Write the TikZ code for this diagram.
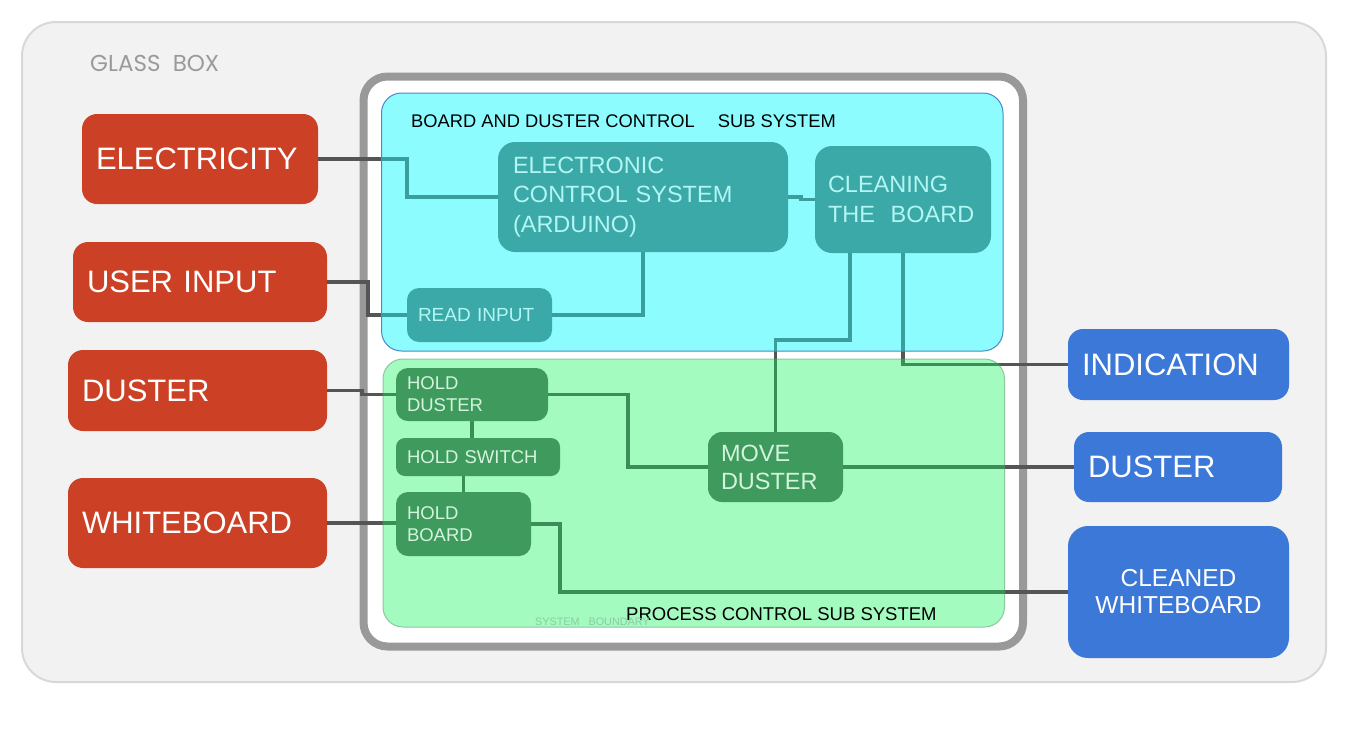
\documentclass[tikz,border=0pt]{standalone}
\usepackage{fontspec}
\setmainfont{Liberation Sans}
\newfontfamily\glassfont{Poppins}
\usepackage{tikz}
\usetikzlibrary{positioning}

\definecolor{glassfill}{HTML}{F2F2F2}
\definecolor{glassline}{HTML}{D8D8D8}
\definecolor{glasstext}{HTML}{9A9A9A}
\definecolor{boundline}{HTML}{999999}
\definecolor{cyanfill}{HTML}{8DFCFF}
\definecolor{cyanline}{HTML}{4F86C6}
\definecolor{greenfill}{HTML}{A3FBBF}
\definecolor{greenline}{HTML}{8CC79E}
\definecolor{boundtext}{HTML}{8CCBA2}
\definecolor{tealbox}{HTML}{3BA9A7}
\definecolor{tealtext}{HTML}{B2F6F4}
\definecolor{tealwire}{HTML}{3A9E9C}
\definecolor{greenbox}{HTML}{3F9A5E}
\definecolor{greentext}{HTML}{D2F5DC}
\definecolor{greenwire}{HTML}{3C8E58}
\definecolor{inputred}{HTML}{CC4125}
\definecolor{outputblue}{HTML}{3C78D8}
\definecolor{wiregray}{HTML}{555555}

\tikzset{
    basebox/.style = {rectangle, inner ysep=0pt, align=left},
    boxsize/.style n args = {3}{minimum width=#1pt, minimum height=#2pt, text width=#3pt},
    redbox/.style = {basebox, fill=inputred, text=white, rounded corners=15pt, inner xsep=14pt,
      font=\fontsize{31}{37}\selectfont},
    bluebox/.style = {basebox, fill=outputblue, text=white, rounded corners=15pt, inner xsep=14pt,
      font=\fontsize{31}{37}\selectfont},
    tealnode/.style = {basebox, fill=tealbox, text=tealtext, rounded corners=17pt},
    greennode/.style = {basebox, fill=greenbox, text=greentext, rounded corners=12pt, inner xsep=11pt,
      font=\fontsize{18.5}{22}\selectfont},
    regionbox/.style = {rectangle, rounded corners=20pt, line width=1pt, inner sep=0pt},
    labelnode/.style = {anchor=base west, inner sep=0pt},
    wire/.style = {line width=3.5pt}
}

% all connectors, drawn once in grey and again clipped to each sub system
\newcommand{\drawwires}{
    \draw[wire] (Elec.east) -| ([xshift=-91pt]ECS.west) -- (ECS.west);
    \draw[wire] (User.east) -| ([xshift=-39pt]ReadIn.west) -- (ReadIn.west);
    \draw[wire] (ReadIn.east) -| (ECS.south);
    \draw[wire] (ECS.east) -- ++(13,0) |- (Clean.west);
    \draw[wire] ([xshift=-53pt]Clean.south) |- ([yshift=92pt]Move.north) -- (Move.north);
    \draw[wire] (Clean.south) |- (Indic.west);
    \draw[wire] (DusterIn.east) -- ++(35,0) |- (HoldDuster.west);
    \draw[wire] (HoldDuster.east) -| ([xshift=-80pt]Move.west) -- (Move.west);
    \draw[wire] (HoldDuster.south) -- (HoldDuster.south |- HoldSwitch.north);
    \draw[wire] (HoldBoard.north |- HoldSwitch.south) -- (HoldBoard.north);
    \draw[wire] (WBoard.east) -- (WBoard.east -| HoldBoard.west);
    \draw[wire] (HoldBoard.east) -| ([xshift=-508pt]Cleaned.west) -- (Cleaned.west);
    \draw[wire] (Move.east) -- (Move.east -| DusterOut.west);
}

\begin{document}
\begin{tikzpicture}[x=1pt, y=-1pt]
    \useasboundingbox (0,0) rectangle (1348,729);

    % glass box and system boundary
    \draw[glassline, fill=glassfill, line width=2pt, rounded corners=34pt] (22,22) rectangle (1326,682);
    \node [labelnode, name=GlassLabel, text=glasstext, font=\glassfont\fontsize{23}{27}\selectfont] at (90,71) {GLASS\ \ BOX};
    \draw[boundline, fill=white, line width=8pt, rounded corners=24pt] (363.5,76.5) rectangle (1023,646.5);

    % sub systems
    \node [regionbox, name=CyanBox, draw=cyanline, fill=cyanfill, minimum width=621.5pt, minimum height=258pt] at (692.25,222) {};
    \node [regionbox, name=GreenBox, draw=greenline, fill=greenfill, minimum width=621.5pt, minimum height=268pt] at (693.75,493) {};
    \node [labelnode, name=CyanTitle, font=\fontsize{18.3}{21}\selectfont] at (411,127) {BOARD AND DUSTER CONTROL\hspace{23pt}SUB SYSTEM};
    \node [labelnode, name=GreenTitle, font=\fontsize{18.5}{22}\selectfont] at (626,620) {PROCESS CONTROL SUB SYSTEM};
    \node [labelnode, name=BoundLabel, text=boundtext, font=\fontsize{10.8}{12}\selectfont] at (535,625) {SYSTEM\ \ \ BOUNDARY};

    % inputs
    \node [redbox, name=Elec, boxsize={236}{90}{208}] at (200,159) {ELECTRICITY};
    \node [redbox, name=User, boxsize={254}{80}{226}] at (200,282) {USER INPUT};
    \node [redbox, name=DusterIn, boxsize={259}{81}{231}] at (197.5,390.5) {DUSTER};
    \node [redbox, name=WBoard, boxsize={259}{90}{231}] at (197.5,523) {WHITEBOARD};

    % outputs
    \node [bluebox, name=Indic, boxsize={221}{71}{193}] at (1178.5,364.5) {INDICATION};
    \node [bluebox, name=DusterOut, boxsize={208}{70}{180}] at (1178,467) {DUSTER};
    \node [bluebox, name=Cleaned, boxsize={221}{132}{193}, align=center, rounded corners=20pt,
      font=\fontsize{24.5}{27}\selectfont] at (1178.5,592) {CLEANED\\WHITEBOARD};

    % board and duster control
    \node [tealnode, name=ECS, boxsize={290}{110}{260}, inner xsep=15pt, font=\fontsize{23.5}{29.5}\selectfont]
      at (643,197) {ELECTRONIC\\CONTROL SYSTEM\\(ARDUINO)};
    \node [tealnode, name=Clean, boxsize={176}{107}{150}, inner xsep=13pt, font=\fontsize{23.5}{30}\selectfont]
      at (903,199.5) {CLEANING\\THE\ \ BOARD};
    \node [tealnode, name=ReadIn, boxsize={145}{54}{123}, inner xsep=11pt, rounded corners=12pt,
      font=\fontsize{19}{22}\selectfont] at (479.5,315) {READ INPUT};

    % process control
    \node [greennode, name=HoldDuster, boxsize={152}{53}{130}] at (472,394.5) {HOLD\\DUSTER};
    \node [greennode, name=HoldSwitch, boxsize={164}{38}{142}, rounded corners=9pt] at (478,457) {HOLD SWITCH};
    \node [greennode, name=HoldBoard, boxsize={135}{64}{113}] at (463.5,524) {HOLD\\BOARD};
    \node [greennode, name=Move, boxsize={135}{70}{109}, inner xsep=13pt, rounded corners=14pt,
      font=\fontsize{23.5}{28}\selectfont] at (775.5,467) {MOVE\\DUSTER};

    % connectors
    \begin{scope}[color=wiregray]
        \drawwires
    \end{scope}
    \begin{scope}[color=tealwire]
        \clip[rounded corners=20pt] (CyanBox.north west) rectangle (CyanBox.south east);
        \drawwires
    \end{scope}
    \begin{scope}[color=greenwire]
        \clip[rounded corners=20pt] (GreenBox.north west) rectangle (GreenBox.south east);
        \drawwires
    \end{scope}
\end{tikzpicture}
\end{document}
